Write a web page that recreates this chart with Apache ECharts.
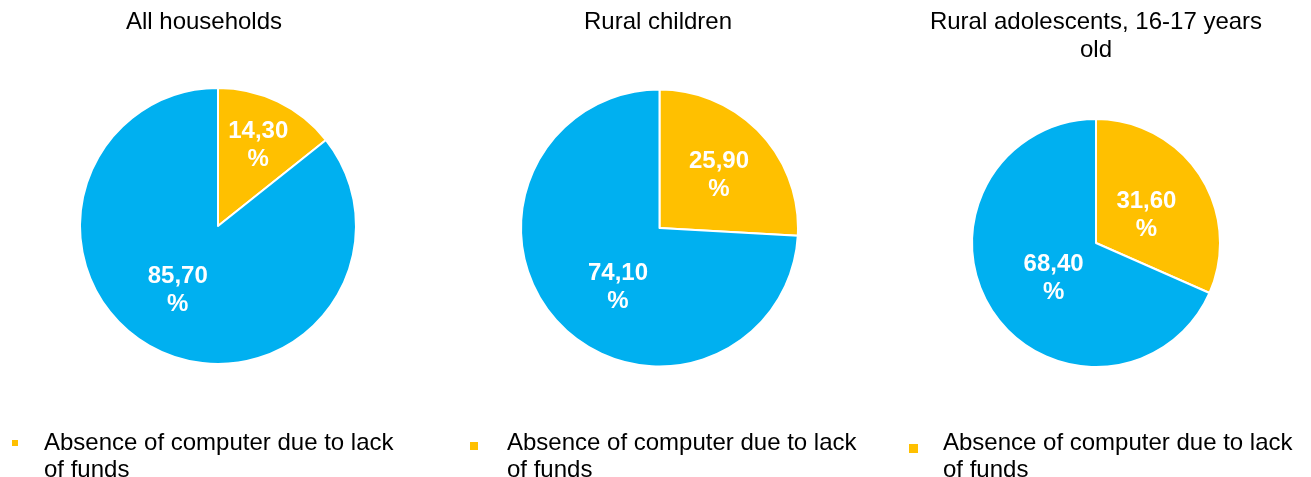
<!DOCTYPE html>
<html>
<head>
<meta charset="utf-8">
<style>
  html, body { margin: 0; padding: 0; background: #ffffff; }
  #chart { width: 1311px; height: 477px; }
</style>
<script src="https://cdn.jsdelivr.net/npm/echarts@6/dist/echarts.min.js"></script>
</head>
<body>
<div id="chart"></div>
<script>
// Share of households / children without a computer, split by reason
const categories = ['Absence of computer due to lack of funds', 'Other reasons'];
const groupTitles = ['All households', 'Rural children', 'Rural adolescents, 16-17 years\nold'];
const householdsValues = [14.3, 85.7];
const childrenValues = [25.9, 74.1];
const adolescentsValues = [31.6, 68.4];

const seriesValues = [householdsValues, childrenValues, adolescentsValues];
const colors = ['#FFC000', '#00B0F0'];
const FONT = '"Liberation Sans", Arial, sans-serif';

// pie layout: centre, radius, title centre and a small nudge for each slice label
const pieLayout = [
  { cx: 218, cy: 226, r: 138, titleX: 204, labelNudge: [[9, -16], [-9, 0]] },
  { cx: 659.5, cy: 228, r: 138.5, titleX: 658, labelNudge: [[7, -3], [11, 10]] },
  { cx: 1096, cy: 243, r: 124, titleX: 1096, labelNudge: [[-4, 8], [12, 0]] }
];

// legend boxes: square left, square top, square size, text start
const legendLayout = [
  { sqX: 12, sqY: 433, size: 6, textX: 44 },
  { sqX: 470, sqY: 435, size: 8, textX: 507 },
  { sqX: 909, sqY: 437, size: 9, textX: 943 }
];
const legendTop = 429.5;
const legendItemH = 40;

// icon path: square placed near the first text line, tiny corner dots fix the box size
function legendIcon(l) {
  const w = l.textX - 5 - l.sqX;
  const off = l.sqY - legendTop;
  return 'path://M0,0h0.05v0.05h-0.05z' +
    ' M0,' + off + 'h' + l.size + 'v' + l.size + 'h-' + l.size + 'z' +
    ' M' + (w - 0.05) + ',' + (legendItemH - 0.05) + 'h0.05v0.05h-0.05z';
}

const fmt = v => v.toFixed(2).replace('.', ',') + '\n%';

const option = {
  backgroundColor: '#ffffff',
  animation: false,
  title: groupTitles.map((t, i) => ({
    text: t,
    left: pieLayout[i].titleX,
    top: 8,
    textAlign: 'center',
    padding: 0,
    textStyle: { fontFamily: FONT, fontSize: 24, fontWeight: 'normal', color: '#000000', lineHeight: 28 }
  })),
  legend: legendLayout.map((l, i) => ({
    data: [categories[0]],
    left: l.sqX,
    top: legendTop,
    padding: 0,
    orient: 'vertical',
    selectedMode: false,
    icon: legendIcon(l),
    itemWidth: l.textX - 5 - l.sqX,
    itemHeight: legendItemH,
    itemStyle: { borderWidth: 0 },
    textStyle: {
      fontFamily: FONT, fontSize: 24, color: '#000000', lineHeight: 27,
      width: 362, overflow: 'break'
    }
  })),
  series: seriesValues.map((vals, i) => ({
    type: 'pie',
    center: [pieLayout[i].cx, pieLayout[i].cy],
    radius: [0, pieLayout[i].r],
    startAngle: 90,
    clockwise: true,
    avoidLabelOverlap: false,
    itemStyle: { borderColor: '#ffffff', borderWidth: 2 },
    label: {
      show: true,
      position: 'inside',
      formatter: p => fmt(p.value),
      fontFamily: FONT,
      fontSize: 24,
      fontWeight: 'bold',
      color: '#ffffff',
      lineHeight: 28
    },
    labelLine: { show: false },
    emphasis: { disabled: true },
    data: categories.map((c, k) => ({
      name: c,
      value: vals[k],
      itemStyle: { color: colors[k] },
      label: { offset: pieLayout[i].labelNudge[k] }
    }))
  }))
};

const chart = echarts.init(document.getElementById('chart'), null, { renderer: 'canvas' });
chart.setOption(option);
</script>
</body>
</html>
